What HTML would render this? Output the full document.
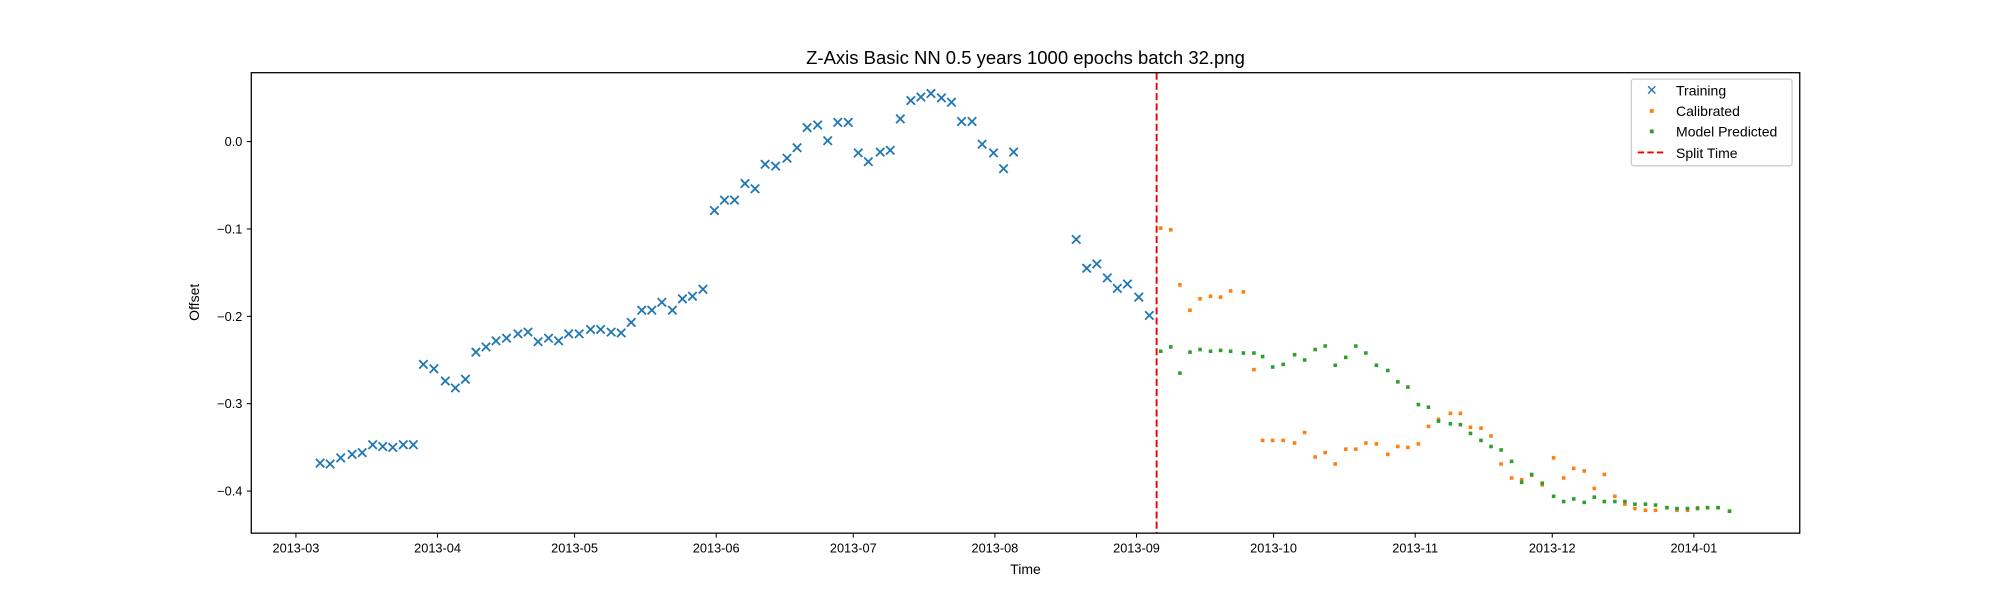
<!DOCTYPE html>
<html><head><meta charset="utf-8"><style>
html,body{margin:0;padding:0;background:#fff;}
svg{display:block;font-family:"Liberation Sans","DejaVu Sans",sans-serif;}
</style></head><body>
<svg id="chart" width="2000" height="600" viewBox="0 0 1568 470.4" preserveAspectRatio="none" xmlns="http://www.w3.org/2000/svg">
<rect width="1568" height="470.4" fill="#fff"/>
<text x="804" y="50" font-size="14.5" text-anchor="middle" fill="#000">Z-Axis Basic NN 0.5 years 1000 epochs batch 32.png</text>
<g id="plot"></g>
<rect x="197" y="57" width="1214" height="361" fill="none" stroke="#000" stroke-width="1"/>
<text x="804" y="450" font-size="11" text-anchor="middle">Time</text>
<text x="156" y="237" font-size="11" text-anchor="middle" transform="rotate(-90 156 237)">Offset</text>
<g>
<rect x="1279" y="62" width="126" height="68" fill="#fff" stroke="#ccc" rx="2"/>
<text x="1295" y="74.5" font-size="11" fill="#1f77b4" text-anchor="middle">✕</text>
<text x="1314" y="75" font-size="11">Training</text>
<rect x="1293.5" y="85.5" width="3" height="3" fill="#ff7f0e"/>
<text x="1314" y="91" font-size="11">Calibrated</text>
<rect x="1293.5" y="101.5" width="3" height="3" fill="#2ca02c"/>
<text x="1314" y="107" font-size="11">Model Predicted</text>
<line x1="1284" y1="119.5" x2="1306" y2="119.5" stroke="#e00" stroke-width="1.5" stroke-dasharray="5,2.5"/>
<text x="1314" y="124" font-size="11">Split Time</text>
</g>
</svg>
<script>
const xTickLabels=["2013-03","2013-04","2013-05","2013-06","2013-07","2013-08","2013-09","2013-10","2013-11","2013-12","2014-01"];
const xTickDays=[0,31,61,92,122,153,184,214,245,275,306];
const yTicks=[-0.4,-0.3,-0.2,-0.1,0.0];
const yTickLabels=["−0.4","−0.3","−0.2","−0.1","0.0"];
const splitDay=188.4;
const trainDays=[5.3,7.5,9.8,12.3,14.5,16.8,19.0,21.2,23.5,25.7,27.9,30.2,32.7,34.9,37.1,39.4,41.6,43.8,46.1,48.6,50.8,53.0,55.3,57.5,59.7,62.0,64.5,66.7,69.0,71.2,73.4,75.7,77.9,80.1,82.4,84.6,86.8,89.1,91.6,93.8,96.0,98.3,100.5,102.7,105.0,107.5,109.7,111.9,114.2,116.4,118.6,120.9,123.1,125.3,127.9,130.1,132.3,134.6,136.8,139.0,141.3,143.5,145.7,148.0,150.2,152.7,154.9,157.1,170.8,173.1,175.3,177.6,179.8,182.0,184.5,186.8];
const trainVals=[-0.368,-0.369,-0.362,-0.358,-0.356,-0.347,-0.349,-0.350,-0.347,-0.347,-0.255,-0.260,-0.274,-0.282,-0.272,-0.241,-0.235,-0.228,-0.225,-0.220,-0.218,-0.229,-0.225,-0.228,-0.220,-0.220,-0.215,-0.215,-0.218,-0.219,-0.207,-0.193,-0.193,-0.184,-0.193,-0.180,-0.177,-0.169,-0.079,-0.067,-0.067,-0.048,-0.054,-0.026,-0.028,-0.019,-0.007,0.016,0.019,0.001,0.022,0.022,-0.013,-0.023,-0.012,-0.010,0.026,0.047,0.051,0.055,0.050,0.045,0.023,0.023,-0.003,-0.013,-0.031,-0.012,-0.112,-0.145,-0.140,-0.156,-0.168,-0.163,-0.178,-0.199];
const predDays=[189.3,191.5,193.5,195.7,197.9,200.2,202.4,204.6,207.4,209.7,211.6,213.8,216.1,218.6,220.8,223.1,225.3,227.5,229.8,232.0,234.2,236.5,239.0,241.2,243.4,245.7,247.9,250.1,252.7,254.9,257.1,259.4,261.6,263.8,266.1,268.3,270.5,272.8,275.3,277.5,279.7,282.0,284.2,286.4,288.7,290.9,293.1,295.4,297.6,300.1,302.3,304.6,306.8,309.0,311.3,313.8];
const calibVals=[-0.099,-0.101,-0.164,-0.193,-0.180,-0.177,-0.178,-0.171,-0.172,-0.261,-0.342,-0.342,-0.342,-0.345,-0.333,-0.361,-0.356,-0.369,-0.352,-0.352,-0.345,-0.346,-0.358,-0.349,-0.350,-0.346,-0.326,-0.318,-0.311,-0.311,-0.327,-0.328,-0.337,-0.369,-0.385,-0.387,-0.382,-0.393,-0.362,-0.385,-0.374,-0.377,-0.397,-0.381,-0.406,-0.415,-0.420,-0.422,-0.422,-0.419,-0.422,-0.422,-0.419,-0.419,-0.419,-0.423];
const modelVals=[-0.240,-0.235,-0.265,-0.241,-0.238,-0.240,-0.239,-0.240,-0.242,-0.242,-0.246,-0.258,-0.255,-0.244,-0.250,-0.238,-0.234,-0.256,-0.247,-0.234,-0.242,-0.256,-0.262,-0.275,-0.281,-0.301,-0.304,-0.320,-0.323,-0.324,-0.334,-0.342,-0.349,-0.353,-0.366,-0.390,-0.381,-0.391,-0.406,-0.412,-0.409,-0.413,-0.407,-0.412,-0.412,-0.412,-0.415,-0.415,-0.416,-0.419,-0.420,-0.420,-0.420,-0.419,-0.419,-0.423];

const NS="http://www.w3.org/2000/svg";
const svg=document.getElementById('chart');
const plot=document.getElementById('plot');
function X(d){return 232+d*3.5817;}
function Y(v){return 111-v*685;}
function mk(tag,attrs,parent){const e=document.createElementNS(NS,tag);for(const k in attrs)e.setAttribute(k,attrs[k]);(parent||svg).appendChild(e);return e;}

xTickDays.forEach((d,i)=>{
  const x=X(d);
  const t=mk('line',{x1:x,y1:418,x2:x,y2:421.5,stroke:'#000','stroke-width':0.8});
  
  
  const l=mk('text',{x:x,y:433,'font-size':10,'text-anchor':'middle'});
  l.textContent=xTickLabels[i];
  
  
});
yTicks.forEach((v,i)=>{
  const y=Y(v);
  const t=mk('line',{x1:193.5,y1:y,x2:197,y2:y,stroke:'#000','stroke-width':0.8});
  
  
  const l=mk('text',{x:190,y:y+3.5,'font-size':10,'text-anchor':'end'});
  l.textContent=yTickLabels[i];
  
  
});
trainDays.forEach((d,i)=>{
  const x=X(d),y=Y(trainVals[i]),s=3.3;
  const p=mk('path',{d:`M${x-s},${y-s}L${x+s},${y+s}M${x-s},${y+s}L${x+s},${y-s}`,stroke:'#1f77b4','stroke-width':1.4,fill:'none'},plot);
  
  
});
predDays.forEach((d,i)=>{
  const x=X(d);
  const c=mk('rect',{x:x-1.4,y:Y(calibVals[i])-1.4,width:2.8,height:2.8,fill:'#ff7f0e'},plot);
  
  
});
predDays.forEach((d,i)=>{
  const x=X(d);
  const c=mk('rect',{x:x-1.4,y:Y(modelVals[i])-1.4,width:2.8,height:2.8,fill:'#2ca02c'},plot);
  
  
});
const sx=X(splitDay);
const sl=mk('line',{x1:sx,y1:57,x2:sx,y2:418,stroke:'#e00','stroke-width':1.5,'stroke-dasharray':'5.5,2.5'},plot);


</script>
</body></html>
